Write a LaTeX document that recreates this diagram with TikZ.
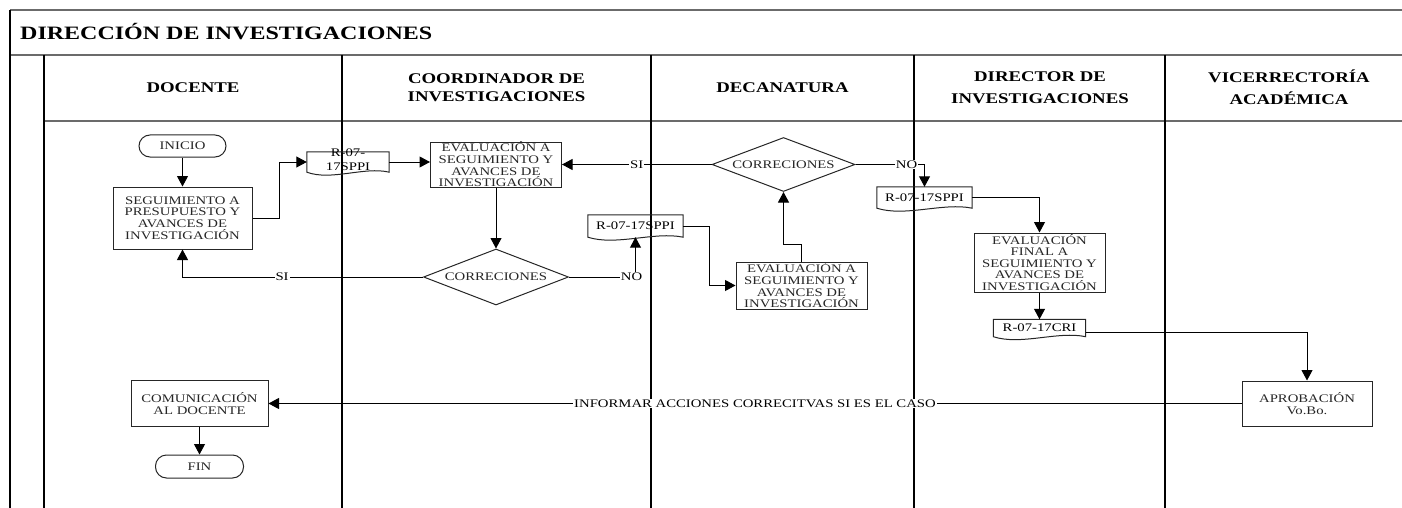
\documentclass[tikz,border=0pt]{standalone}
\usepackage{fontspec}
\setmainfont[FakeStretch=1.27]{Liberation Serif}
\usetikzlibrary{arrows.meta,calc,shapes.geometric}

% type sizes
\newcommand\bodyfont{\fontsize{11.6}{11.6}\selectfont}
\newcommand\hdrfont{\fontsize{14.8}{18}\selectfont\bfseries}
\newcommand\titlefont{\fontsize{18.9}{22}\selectfont\bfseries}

% document symbol: straight top and sides, wavy bottom
\newcommand\docframe[1]{%
  \draw[boxline] (#1.south west) -- (#1.north west) -- (#1.north east) -- (#1.south east)
    .. controls ($(#1.south east)!0.3!(#1.south west)+(0pt,6pt)$)
       and ($(#1.south east)!0.7!(#1.south west)+(0pt,-9pt)$) .. (#1.south west) -- cycle;}

\tikzset{
  boxline/.style={line width=1pt, black!85},
  laneline/.style={line width=1.6pt, black},
  bandline/.style={line width=1.6pt, black!58},
  proc/.style={draw, boxline, align=center, inner sep=0pt, font=\bodyfont},
  term/.style={proc, rounded corners=11pt},
  decision/.style={draw, boxline, diamond, aspect=2.6, inner sep=0pt, font=\bodyfont},
  docbox/.style={inner sep=0pt, align=center, font=\bodyfont},
  link/.style={line width=1pt, -{Triangle[length=10.5pt,width=11pt]}},
  lbl/.style={fill=white, inner sep=1pt, font=\bodyfont},
  header/.style={font=\hdrfont, align=center},
}

\begin{document}
\begin{tikzpicture}[x=1pt, y=-1pt]
\useasboundingbox (0,0) rectangle (1402,508);

% pool frame and lanes
\draw[bandline] (10,10) -- (1402,10);
\draw[bandline] (10,55) -- (1402,55);
\draw[bandline] (44,121) -- (1402,121);
\draw[laneline] (10,10) -- (10,508);
\draw[laneline] (44,55) -- (44,508);
\foreach \lx in {342,651,914,1165} \draw[laneline] (\lx,55) -- (\lx,508);

\node[font=\titlefont, anchor=west, inner sep=0pt] (title) at (20,32) {DIRECCIÓN DE INVESTIGACIONES};

\node[header] (hdoc)   at (193,88)    {DOCENTE};
\node[header] (hcoord) at (496.5,88)  {COORDINADOR DE\\INVESTIGACIONES};
\node[header] (hdec)   at (782.5,88)  {DECANATURA};
\node[header, font=\fontsize{14.8}{22}\selectfont\bfseries] (hdir) at (1040,87.5) {DIRECTOR DE\\INVESTIGACIONES};
\node[header, font=\fontsize{14.8}{22}\selectfont\bfseries] (hvic) at (1289,87.5) {VICERRECTORÍA\\ACADÉMICA};

% flow elements
\node[term, minimum width=87pt, minimum height=22pt] (inicio) at (182.5,146) {INICIO};
\node[proc, minimum width=139pt, minimum height=62pt] (seg) at (182.5,218)
  {SEGUIMIENTO A\\PRESUPUESTO Y\\AVANCES DE\\INVESTIGACIÓN};

\node[docbox, minimum width=82pt, minimum height=20pt] (doc1) at (348,162) {};
\docframe{doc1}
\node[docbox, font=\fontsize{11.6}{14}\selectfont] (doc1t) at (348,160) {R-07-\\17SPPI};

\node[proc, minimum width=131pt, minimum height=45pt] (ev1) at (496,164.5)
  {EVALUACIÓN A\\SEGUIMIENTO Y\\AVANCES DE\\INVESTIGACIÓN};
\node[decision, minimum width=145pt, minimum height=56pt] (d1) at (496,277) {CORRECIONES};

\node[docbox, minimum width=95pt, minimum height=22pt] (doc2) at (635.5,226) {R-07-17SPPI};
\docframe{doc2}

\node[proc, minimum width=131pt, minimum height=47pt] (ev2) at (801.5,285.5)
  {EVALUACIÓN A\\SEGUIMIENTO Y\\AVANCES DE\\INVESTIGACIÓN};
\node[decision, minimum width=143pt, minimum height=54pt] (d2) at (783.5,164.5) {CORRECIONES};

\node[docbox, minimum width=95pt, minimum height=21pt] (doc3) at (924.5,197.5) {R-07-17SPPI};
\docframe{doc3}

\node[proc, minimum width=131pt, minimum height=59pt] (ev3) at (1039.5,262.5)
  {EVALUACIÓN\\FINAL A\\SEGUIMIENTO Y\\AVANCES DE\\INVESTIGACIÓN};

\node[docbox, minimum width=92pt, minimum height=17pt] (doc4) at (1039.5,328) {R-07-17CRI};
\docframe{doc4}

\node[proc, minimum width=130pt, minimum height=45pt] (apr) at (1307,403.5) {APROBACIÓN\\Vo.Bo.};
\node[proc, minimum width=137pt, minimum height=46pt] (com) at (199.5,403.5) {COMUNICACIÓN\\AL DOCENTE};
\node[term, minimum width=88pt, minimum height=23pt] (fin) at (199.5,466.5) {FIN};

% connectors
\draw[link] (inicio) -- (seg);
\draw[link] (seg.east) -| ($(seg.east)!.5!(doc1.west)$) |- (doc1.west);
\draw[link] (doc1.east) -- (doc1.east -| ev1.west);
\draw[link] (ev1) -- (d1);
\draw[link] (d1.west) -| node[lbl, pos=0.293] {SI} (seg.south);
\draw[link] (d1.east) -| node[lbl, pos=0.47] {NO} (doc2.south);
\draw[link] (doc2.east) -| ($(doc2.east)!.5!(ev2.west)$) |- (ev2.west);
\draw[link] (ev2.north) -- ++(0,-17) -| (d2.south);
\draw[link] (d2.west) -- node[lbl] {SI} (ev1.east);
\draw[link] (d2.east) -| node[lbl, pos=0.37] {NO} (doc3.north);
\draw[link] (doc3.east) -| (ev3.north);
\draw[link] (ev3) -- (doc4);
\draw[link] ([yshift=-4pt]doc4.east) -| (apr.north);
\draw[link] (apr.west) -- node[lbl] {INFORMAR ACCIONES CORRECITVAS SI ES EL CASO} (com.east);
\draw[link] (com) -- (fin);
\end{tikzpicture}
\end{document}
